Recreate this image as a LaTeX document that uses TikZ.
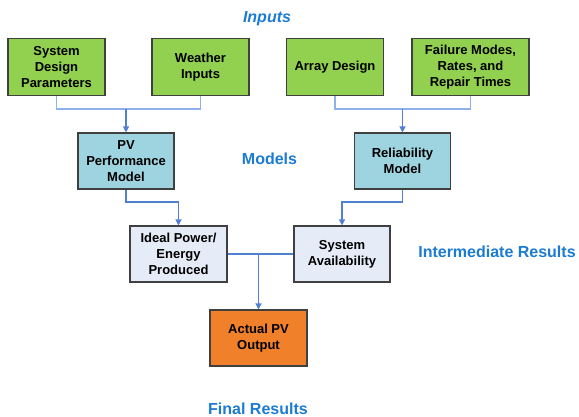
\documentclass[tikz,border=0pt]{standalone}
\usepackage{fontspec}
\setmainfont{Liberation Sans}
\usetikzlibrary{arrows.meta}
\definecolor{ingreen}{HTML}{92D050}
\definecolor{modblue}{HTML}{9ED3E0}
\definecolor{intfill}{HTML}{E6ECF7}
\definecolor{outorange}{HTML}{F0802A}
\definecolor{boxline}{HTML}{404040}
\definecolor{lnblue}{HTML}{4F80D2}
\definecolor{lnlight}{HTML}{8FB0E8}
\definecolor{lblblue}{HTML}{1C7CD2}
\tikzset{
  box/.style={draw=boxline, line width=1.1pt, minimum width=97pt, minimum height=57pt,
    align=center, inner sep=2pt, font=\fontsize{13}{15.7}\selectfont\bfseries},
  inbox/.style={box, fill=ingreen},
  modbox/.style={box, fill=modblue},
  intbox/.style={box, fill=intfill},
  outbox/.style={box, fill=outorange},
  branch/.style={draw=lnlight, line width=1.2pt},
  arr/.style={draw=lnblue, line width=1.2pt, -{Triangle[width=6pt,length=6pt]}},
  lbl/.style={text=lblblue, font=\fontsize{16}{19}\selectfont\bfseries}
}
\begin{document}
\begin{tikzpicture}[x=1pt,y=-1pt]
\useasboundingbox (0,0) rectangle (579,416);
\fill[white] (0,0) rectangle (579,416);
% labels
\node[lbl, font=\fontsize{16}{19}\selectfont\bfseries\itshape] (linputs) at (267,19) {Inputs};
\node[lbl] (lmodels) at (269.5,159) {Models};
\node[lbl] (linter) at (497,252) {Intermediate Results};
\node[lbl] (lfinal) at (258,409) {Final Results};
% boxes
\node[inbox] (sdp) at (56.5,67) {System\\Design\\Parameters};
\node[inbox] (wi) at (200.5,67) {Weather\\Inputs};
\node[inbox] (ad) at (335,67) {Array Design};
\node[inbox, minimum width=117pt] (fm) at (470.5,67) {Failure Modes,\\Rates, and\\Repair Times};
\node[modbox, minimum width=96pt, minimum height=56pt] (pv) at (126,161) {PV\\Performance\\Model};
\node[modbox, minimum width=96pt, minimum height=56pt] (rm) at (402.5,161) {Reliability\\Model};
\node[intbox, minimum height=56pt] (ip) at (178.5,254) {Ideal Power/\\Energy\\Produced};
\node[intbox, minimum width=96pt, minimum height=56pt] (sa) at (342,254) {System\\Availability};
\node[outbox, minimum height=56pt] (ao) at (258.5,338) {Actual PV\\Output};
% junctions
\coordinate (j1) at (126,109);
\coordinate (j2) at (402.5,109);
\coordinate (k1) at (126,202);
\coordinate (k2) at (402.5,202);
\coordinate (j3) at (258.5,254);
% connectors
\draw[branch] (sdp.south) |- (j1) -| (wi.south);
\draw[arr] (j1) -- (pv.north);
\draw[branch] (ad.south) |- (j2) -| (fm.south);
\draw[arr] (j2) -- (rm.north);
\draw[arr] (pv.south) -- (k1) -| (ip.north);
\draw[arr] (rm.south) -- (k2) -| (sa.north);
\draw[draw=lnblue, line width=1.2pt] (ip.east) -- (sa.west);
\draw[arr] (j3) -- (ao.north);
\end{tikzpicture}
\end{document}
